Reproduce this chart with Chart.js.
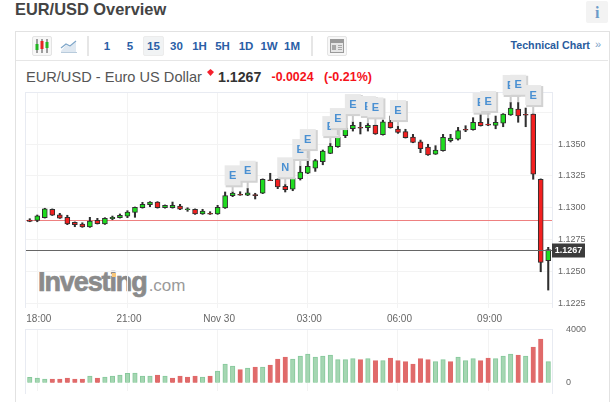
<!DOCTYPE html>
<html>
<head>
<meta charset="utf-8">
<title>EUR/USD Overview</title>
<script src="https://cdn.jsdelivr.net/npm/chart.js@4"></script>
<style>
  html, body { margin: 0; padding: 0; background: #fff; }
  body { width: 616px; height: 402px; position: relative; overflow: hidden; font-family: "Liberation Sans", Arial, sans-serif; }
  .t { position: absolute; white-space: nowrap; line-height: 1; }
  canvas { position: absolute; left: 0; top: 0; }
  .frame { position: absolute; left: 15px; top: 31px; width: 593px; height: 380px; border: 1px solid #e2e2e2; box-sizing: content-box; }
  .rule { position: absolute; background: #e6e6e6; }
  .iconbox { position: absolute; box-sizing: border-box; border: 1px solid #e4e4e4; border-radius: 2px; background: #f7f7f7; }
  .interval { position: absolute; top: 39px; font-size: 11.5px; font-weight: bold; color: #2a5ea6; line-height: 14px; transform: translateX(-50%); }
</style>
</head>
<body>
<div class="t" style="left:15px;top:1px;font-size:16.4px;font-weight:bold;color:#444;">EUR/USD Overview</div>
<div style="position:absolute;left:586px;top:1px;width:22px;height:22px;background:#f3f3f3;border-radius:2px;"></div>
<div class="t" style="left:595px;top:5px;font-family:'Liberation Serif',serif;font-size:16px;font-weight:bold;color:#6c9bc9;">i</div>

<div class="frame"></div>
<div class="rule" style="left:16px;top:60px;width:592px;height:1px;"></div>
<div class="rule" style="left:87px;top:36px;width:2px;height:20px;"></div>
<div class="rule" style="left:311px;top:36px;width:2px;height:20px;"></div>

<div class="iconbox" style="left:32px;top:36px;width:20px;height:20px;"></div>
<svg style="position:absolute;left:32px;top:36px" width="20" height="20">
  <path d="M5 3v14M10 3v14M15 3v14" stroke="#444" stroke-width="1"/>
  <rect x="3.5" y="8" width="3" height="6" fill="#22b522"/>
  <rect x="8.5" y="5" width="3" height="8" fill="#e52222"/>
  <rect x="13.5" y="6" width="3" height="6" fill="#22b522"/>
</svg>
<svg style="position:absolute;left:60px;top:38px" width="18" height="16">
  <path d="M1 13 L6 7 L10 9 L16 4 V14 H1 Z" fill="#dfe8f1"/>
  <path d="M1 10 L6 6 L10 8 L16 3" fill="none" stroke="#7ea6c9" stroke-width="1.2"/>
  <path d="M1 14.5 H17" stroke="#b8cbdc" stroke-width="1"/>
</svg>

<div style="position:absolute;left:143px;top:36px;width:21px;height:20px;background:#f1f3f4;border:1px solid #ececec;box-sizing:border-box;border-radius:2px;"></div>
<div class="interval" style="left:107px">1</div>
<div class="interval" style="left:130px">5</div>
<div class="interval" style="left:153.5px">15</div>
<div class="interval" style="left:176.5px">30</div>
<div class="interval" style="left:199.5px">1H</div>
<div class="interval" style="left:222.5px">5H</div>
<div class="interval" style="left:246px">1D</div>
<div class="interval" style="left:269px">1W</div>
<div class="interval" style="left:292px">1M</div>

<div class="iconbox" style="left:327px;top:36px;width:20px;height:20px;"></div>
<svg style="position:absolute;left:327px;top:36px" width="20" height="20">
  <rect x="3" y="3" width="14" height="14" fill="#9a9a9a"/>
  <rect x="4" y="7" width="12" height="9" fill="#e6e6e6"/>
  <rect x="5" y="9" width="4" height="5" fill="#a8a8a8"/>
  <path d="M11 9.5h4M11 11.5h4M11 13.5h4" stroke="#a8a8a8" stroke-width="1"/>
</svg>
<div class="t" style="left:510.5px;top:39px;font-size:10.7px;font-weight:bold;color:#2a5c9e;line-height:13px;">Technical Chart</div>
<div class="t" style="left:595px;top:38px;font-size:11px;color:#7d9fc8;line-height:13px;">»</div>

<div class="t" style="left:26px;top:70px;font-size:14.6px;color:#555;">EUR/USD - Euro US Dollar</div>
<svg style="position:absolute;left:206px;top:68px" width="9" height="9"><path d="M4.5 1 L8 4 L4.5 8 L1 4 Z" fill="#f5212d"/></svg>
<div class="t" style="left:218px;top:70px;font-size:14.2px;font-weight:bold;color:#333;">1.1267</div>
<div class="t" style="left:271.5px;top:71px;font-size:12.4px;font-weight:bold;color:#f5121a;">-0.0024</div>
<div class="t" style="left:324px;top:71px;font-size:12.5px;font-weight:bold;color:#f5121a;">(-0.21%)</div>

<div class="t" style="left:38px;top:269px;font-size:27px;font-weight:bold;color:#8b8b8b;letter-spacing:-1.1px;-webkit-text-stroke:0.7px #8b8b8b;">Investing<span style="font-size:17px;font-weight:normal;color:#9a9a9a;letter-spacing:0;-webkit-text-stroke:0;margin-left:2px;">.com</span></div>
<div style="position:absolute;left:112px;top:273px;width:4px;height:4px;background:#f9c87a;"></div>

<canvas id="priceCanvas" width="616" height="402"></canvas>
<canvas id="volumeCanvas" width="616" height="402"></canvas>

<script>
// 15-minute session, 17:45 through 11:00
const times = [
  "17:45","18:00","18:15","18:30","18:45","19:00","19:15","19:30","19:45","20:00",
  "20:15","20:30","20:45","21:00","21:15","21:30","21:45","22:00","22:15","22:30",
  "22:45","23:00","23:15","23:30","23:45","Nov 30","00:15","00:30","00:45","01:00",
  "01:15","01:30","01:45","02:00","02:15","02:30","02:45","03:00","03:15","03:30",
  "03:45","04:00","04:15","04:30","04:45","05:00","05:15","05:30","05:45","06:00",
  "06:15","06:30","06:45","07:00","07:15","07:30","07:45","08:00","08:15","08:30",
  "08:45","09:00","09:15","09:30","09:45","10:00","10:15","10:30","10:45","11:00"
];
const timeTicks = ["18:00","21:00","Nov 30","03:00","06:00","09:00"];

const opens = [
  1.12903,1.12900,1.12921,1.12987,1.12944,1.12924,1.12885,1.12871,1.12848,1.12900,
  1.12871,1.12913,1.12921,1.12932,1.12963,1.12999,1.13023,1.13044,1.12999,1.12999,
  1.13013,1.12984,1.12987,1.12950,1.12955,1.12950,1.12997,1.13094,1.13104,1.13097,
  1.13103,1.13113,1.13218,1.13223,1.13168,1.13146,1.13227,1.13270,1.13311,1.13361,
  1.13427,1.13479,1.13565,1.13620,1.13632,1.13628,1.13647,1.13573,1.13673,1.13618,
  1.13597,1.13555,1.13518,1.13476,1.13421,1.13447,1.13526,1.13539,1.13616,1.13612,
  1.13671,1.13656,1.13647,1.13663,1.13728,1.13775,1.13734,1.13736,1.13223,1.12583
];
const closes = [
  1.12892,1.12936,1.12991,1.12940,1.12918,1.12871,1.12866,1.12848,1.12895,1.12874,
  1.12916,1.12924,1.12940,1.12966,1.13002,1.13026,1.13044,1.12999,1.13018,1.13018,
  1.12987,1.12990,1.12950,1.12973,1.12949,1.13002,1.13095,1.13115,1.13098,1.13117,
  1.13095,1.13223,1.13212,1.13162,1.13141,1.13233,1.13280,1.13325,1.13369,1.13445,
  1.13484,1.13555,1.13626,1.13647,1.13624,1.13647,1.13579,1.13675,1.13628,1.13592,
  1.13550,1.13513,1.13463,1.13414,1.13453,1.13553,1.13547,1.13605,1.13608,1.13671,
  1.13644,1.13648,1.13671,1.13736,1.13783,1.13720,1.13726,1.13264,1.12570,1.1267
];
const highs = [
  1.12913,1.12942,1.12995,1.12990,1.12955,1.12940,1.12888,1.12881,1.12924,1.12916,
  1.12921,1.12934,1.12950,1.12976,1.13005,1.13042,1.13047,1.13047,1.13021,1.13044,
  1.13026,1.12999,1.12990,1.12987,1.12968,1.13018,1.13123,1.13125,1.13125,1.13152,
  1.13113,1.13226,1.13270,1.13226,1.13183,1.13238,1.13327,1.13388,1.13380,1.13453,
  1.13506,1.13571,1.13641,1.13675,1.13671,1.13663,1.13650,1.13689,1.13720,1.13641,
  1.13616,1.13576,1.13531,1.13498,1.13487,1.13576,1.13576,1.13631,1.13644,1.13707,
  1.13754,1.13702,1.13720,1.13739,1.13828,1.13828,1.13783,1.13739,1.13226,1.12688
];
const lows = [
  1.12889,1.12889,1.12918,1.12938,1.12915,1.12866,1.12850,1.12845,1.12845,1.12871,
  1.12868,1.12905,1.12918,1.12921,1.12924,1.12996,1.13007,1.12996,1.12996,1.12996,
  1.12984,1.12971,1.12947,1.12947,1.12947,1.12947,1.12994,1.13086,1.13097,1.13094,
  1.13068,1.13110,1.13212,1.13149,1.13123,1.13133,1.13217,1.13267,1.13285,1.13337,
  1.13424,1.13474,1.13550,1.13602,1.13579,1.13602,1.13576,1.13570,1.13625,1.13584,
  1.13547,1.13510,1.13432,1.13411,1.13418,1.13444,1.13516,1.13531,1.13597,1.13609,
  1.13641,1.13644,1.13620,1.13636,1.13725,1.13671,1.13636,1.13223,1.12496,1.12352
];
const volumes = [
  405,354,278,278,278,354,278,278,506,354,
  430,506,582,708,734,506,506,582,506,354,
  506,430,506,430,506,885,1417,1265,987,1113,
  1189,1189,1341,1796,1948,1796,2024,2176,1948,2024,
  2100,1746,1746,1822,1746,1822,1670,1670,1872,1670,
  1594,1417,1822,1746,1594,1746,1594,1948,1670,1822,
  1670,1872,1822,2024,2176,2100,2024,2707,3314,1594
];
const volumeUp = [
  1,1,1,0,0,0,0,0,1,0,
  1,1,1,1,1,1,1,0,1,0,
  0,0,0,1,0,1,1,1,0,1,
  0,1,0,0,0,1,1,1,1,1,
  1,1,1,1,0,1,0,1,0,0,
  0,0,0,0,1,1,0,1,1,1,
  0,0,1,1,1,0,1,0,0,1
];

const priceTicks = [1.1225, 1.125, 1.1275, 1.13, 1.1325, 1.135, 1.1375];
const labelledPriceMax = 1.135;
const volumeTicks = [0, 4000];
const previousClose = 1.129;
const lastPrice = 1.1267;

// News events: candle index, flag letter, price level of the flag's centre
const eventBars = [27, 29, 34, 36, 37, 40, 41, 43, 45, 46, 49, 60, 61, 64, 65, 67];
const eventFlags = ["E","E","N","E","E","E","E","E","E","E","E","E","E","E","E","E"];
const eventLevels = [
  1.13254,1.13290,1.13317,1.13461,1.13539,1.13641,1.13704,1.13814,
  1.13799,1.13788,1.13767,1.13825,1.13838,1.13964,1.13966,1.13885
];

const GREEN = "#1fdc1f", RED = "#f32020", DARK = "#2f2f2f";
const GRID = "#f3f3f3", AXIS = "#e8ebf2", TICK_TEXT = "#666";

// Keeps the price axis column a fixed width so both panes line up
const fixWidth = scale => { scale.width = 64; };

const frameAndLines = {
  id: "frameAndLines",
  beforeDatasetsDraw(chart) {
    const { ctx, chartArea: a, scales: { y } } = chart;
    ctx.save();
    ctx.strokeStyle = AXIS;
    ctx.lineWidth = 1;
    ctx.beginPath();
    ctx.moveTo(a.left - 0.5, a.top); ctx.lineTo(a.left - 0.5, a.bottom);
    ctx.moveTo(a.right + 0.5, a.top); ctx.lineTo(a.right + 0.5, a.bottom);
    ctx.moveTo(a.left, a.top + 0.5); ctx.lineTo(a.right, a.top + 0.5);
    ctx.stroke();
    ctx.strokeStyle = "#ee8080";
    ctx.beginPath();
    const red = Math.round(y.getPixelForValue(previousClose)) + 0.5;
    ctx.moveTo(a.left, red); ctx.lineTo(a.right, red);
    ctx.stroke();
    ctx.restore();
  },
  afterDatasetsDraw(chart) {
    const { ctx, chartArea: a, scales: { x, y } } = chart;
    ctx.save();
    // Last price line and its tag on the axis
    const last = Math.round(y.getPixelForValue(lastPrice)) + 0.5;
    ctx.strokeStyle = "#666";
    ctx.lineWidth = 1;
    ctx.beginPath();
    ctx.moveTo(a.left, last); ctx.lineTo(a.right, last);
    ctx.stroke();
    ctx.fillStyle = "#3c3c3c";
    ctx.fillRect(a.right, last - 7, 33, 14);
    ctx.fillStyle = "#fff";
    ctx.font = "bold 9px 'Liberation Sans', Arial, sans-serif";
    ctx.textAlign = "center";
    ctx.textBaseline = "middle";
    ctx.fillText(lastPrice.toFixed(4), a.right + 16.5, last + 0.5);

    // News flags with their stems, later flags overlapping earlier ones
    eventBars.forEach((bar, i) => {
      const cx = x.getPixelForValue(bar);
      const cy = y.getPixelForValue(eventLevels[i]);
      const stemEnd = y.getPixelForValue(highs[bar]);
      ctx.fillStyle = "#c9c9c9";
      ctx.fillRect(cx - 1, cy + 10, 2, Math.max(0, stemEnd - cy - 10));
      ctx.fillStyle = "#d2d2d2";
      ctx.fillRect(cx - 7, cy - 9, 17, 21);
      ctx.fillStyle = "#e9e9e9";
      ctx.fillRect(cx - 8, cy - 10, 16, 20);
      ctx.fillStyle = "#4a90d2";
      ctx.font = "bold 11px 'Liberation Sans', Arial, sans-serif";
      ctx.fillText(eventFlags[i], cx, cy + 0.5);
    });
    ctx.restore();
  }
};

new Chart(document.getElementById("priceCanvas"), {
  type: "bar",
  data: {
    labels: times,
    datasets: [
      {
        label: "Range",
        data: times.map((_, i) => [lows[i], highs[i]]),
        backgroundColor: DARK,
        barThickness: 1.4,
        grouped: false,
        order: 2
      },
      {
        label: "Body",
        data: times.map((_, i) => [opens[i], closes[i]]),
        backgroundColor: opens.map((o, i) => (closes[i] >= o ? GREEN : RED)),
        borderColor: DARK,
        borderWidth: 1,
        borderSkipped: false,
        barThickness: 5,
        grouped: false,
        order: 1
      }
    ]
  },
  options: {
    responsive: false,
    animation: false,
    events: [],
    layout: { padding: { left: 26, right: 0, top: 92, bottom: 74 } },
    plugins: { legend: { display: false }, tooltip: { enabled: false } },
    scales: {
      x: {
        offset: true,
        afterFit: s => { s.height = 20; },
        border: { display: false },
        grid: {
          offset: false,
          drawTicks: false,
          color: c => (c.tick && timeTicks.includes(times[c.tick.value]) ? GRID : "transparent")
        },
        ticks: {
          autoSkip: false,
          maxRotation: 0,
          padding: 5,
          labelOffset: 1.5,
          color: TICK_TEXT,
          font: { family: "'Liberation Sans', Arial, sans-serif", size: 10 },
          callback(v) {
            const t = times[v];
            return timeTicks.includes(t) ? t : "";
          }
        }
      },
      y: {
        position: "right",
        min: 1.12211,
        max: 1.13909,
        afterFit: fixWidth,
        afterBuildTicks: s => { s.ticks = priceTicks.map(value => ({ value })); },
        border: { display: false },
        grid: { color: GRID, drawTicks: false },
        ticks: {
          padding: 6,
          color: TICK_TEXT,
          font: { family: "'Liberation Sans', Arial, sans-serif", size: 9 },
          callback: v => (v <= labelledPriceMax ? v.toFixed(4) : "")
        }
      }
    }
  },
  plugins: [frameAndLines]
});

new Chart(document.getElementById("volumeCanvas"), {
  type: "bar",
  data: {
    labels: times,
    datasets: [{
      label: "Volume",
      data: volumes,
      backgroundColor: volumeUp.map(u => (u ? "#a5d6b2" : "#e06a6a")),
      borderColor: volumeUp.map(u => (u ? "#86c99b" : "#e06a6a")),
      borderWidth: 1,
      barThickness: 4.5
    }]
  },
  options: {
    responsive: false,
    animation: false,
    events: [],
    layout: { padding: { left: 26, right: 0, top: 329, bottom: 2 } },
    plugins: { legend: { display: false }, tooltip: { enabled: false } },
    scales: {
      x: {
        offset: true,
        afterFit: s => { s.height = 0; },
        border: { display: false },
        grid: {
          offset: false,
          drawTicks: false,
          color: c => (c.tick && timeTicks.includes(times[c.tick.value]) ? GRID : "transparent")
        },
        ticks: { display: false, autoSkip: false }
      },
      y: {
        position: "right",
        min: -599,
        max: 4076,
        afterFit: fixWidth,
        afterBuildTicks: s => { s.ticks = volumeTicks.map(value => ({ value })); },
        border: { display: false, color: AXIS },
        grid: { display: false },
        ticks: {
          padding: 6,
          color: TICK_TEXT,
          font: { family: "'Liberation Sans', Arial, sans-serif", size: 9 },
          callback: v => String(v)
        }
      }
    }
  },
  plugins: [{
    id: "paneFrame",
    beforeDatasetsDraw(chart) {
      const { ctx, chartArea: a } = chart;
      const paneFoot = a.bottom + 3.4;
      ctx.save();
      ctx.strokeStyle = AXIS;
      ctx.beginPath();
      ctx.moveTo(a.left - 0.5, a.top); ctx.lineTo(a.left - 0.5, paneFoot);
      ctx.moveTo(a.right + 0.5, a.top); ctx.lineTo(a.right + 0.5, paneFoot);
      ctx.moveTo(a.left, a.top + 0.5); ctx.lineTo(a.right, a.top + 0.5);
      ctx.stroke();
      ctx.restore();
    }
  }]
});
</script>
</body>
</html>
